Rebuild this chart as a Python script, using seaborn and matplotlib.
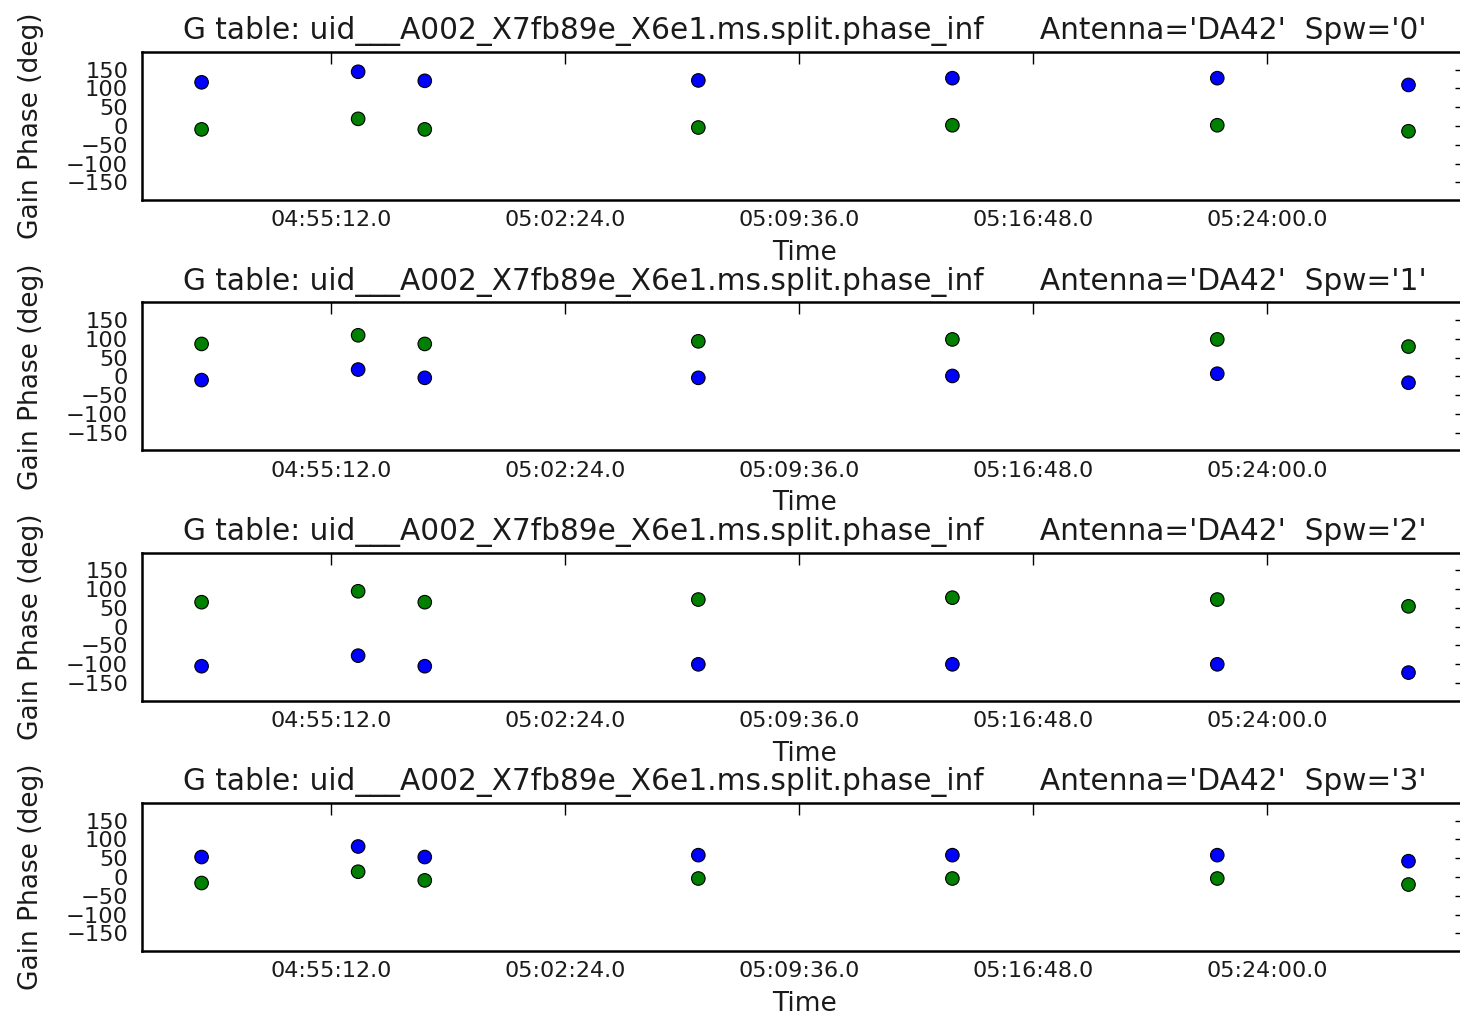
import numpy as np
import pandas as pd
import matplotlib
matplotlib.use("Agg")
import matplotlib.pyplot as plt
import matplotlib.dates as mdates
import matplotlib.ticker as mticker
import seaborn as sns

# ---------------- data ----------------
obs_date = "2014-01-01"
scan_times = ["04:51:13", "04:56:02", "04:58:05", "05:06:30",
              "05:14:19", "05:22:28", "05:28:21"]
spws = ["0", "1", "2", "3"]

blue_spw0 = [116, 144, 120, 121, 127, 127, 109]
green_spw0 = [-9, 19, -9, -4, 2, 2, -14]
blue_spw1 = [-10, 18, -4, -4, 1, 7, -17]
green_spw1 = [86, 109, 86, 93, 98, 98, 79]
blue_spw2 = [-105, -77, -105, -100, -100, -100, -122]
green_spw2 = [65, 94, 65, 72, 77, 72, 54]
blue_spw3 = [53, 81, 53, 58, 58, 58, 42]
green_spw3 = [-16, 14, -9, -4, -4, -4, -20]

yticks = [-150, -100, -50, 0, 50, 100, 150]
x_start = "04:49:23"
x_end = "05:30:09"
table_name = "uid___A002_X7fb89e_X6e1.ms.split.phase_inf"
antenna = "DA42"

blue_by_spw = {"0": blue_spw0, "1": blue_spw1, "2": blue_spw2, "3": blue_spw3}
green_by_spw = {"0": green_spw0, "1": green_spw1, "2": green_spw2, "3": green_spw3}

rows = []
for s in spws:
    for t, b, g in zip(scan_times, blue_by_spw[s], green_by_spw[s]):
        ts = pd.Timestamp(f"{obs_date} {t}")
        rows.append({"time": ts, "phase": b, "spw": s, "series": "blue"})
        rows.append({"time": ts, "phase": g, "spw": s, "series": "green"})
df = pd.DataFrame(rows)

# ---------------- style ----------------
sns.set_style("white")
plt.rcParams["font.family"] = ["DejaVu Sans"]
plt.rcParams["axes.unicode_minus"] = True
plt.rcParams["text.color"] = "#1a1a1a"
plt.rcParams["axes.labelcolor"] = "#1a1a1a"
plt.rcParams["xtick.labelcolor"] = "#1a1a1a"
plt.rcParams["ytick.labelcolor"] = "#1a1a1a"

W, H = 1460, 1015
fig, axes = plt.subplots(4, 1, figsize=(W / 100, H / 100), dpi=100)
top_px, bot_px = 52, 951
ax_h = 148
gap = ((bot_px - top_px) - 4 * ax_h) / 3
fig.subplots_adjust(left=142 / W, right=1467 / W, top=1 - top_px / H,
                    bottom=1 - bot_px / H, hspace=gap / ax_h)

palette = {"blue": "#0000ff", "green": "#008000"}

for ax, s in zip(axes, spws):
    sub = df[df["spw"] == s]
    sns.scatterplot(data=sub, x="time", y="phase", hue="series",
                    palette=palette, s=95, edgecolor="black",
                    linewidth=0.8, legend=False, ax=ax, zorder=3)
    ax.set_ylim(-196.5, 196.5)
    ax.set_yticks(yticks)
    ax.set_xlim(pd.Timestamp(f"{obs_date} {x_start}"),
                pd.Timestamp(f"{obs_date} {x_end}"))
    ax.xaxis.set_major_locator(mticker.MultipleLocator(432 / 86400))
    ax.xaxis.set_major_formatter(mdates.DateFormatter("%H:%M:%S.0"))
    ax.tick_params(axis="both", which="major", direction="in",
                   top=True, right=True, length=8.6, width=1.0,
                   color="black")
    ax.tick_params(axis="x", labelsize=16, pad=7.5)
    ax.tick_params(axis="y", labelsize=16.2, pad=10)
    for sp in ax.spines.values():
        sp.set_linewidth(1.8)
        sp.set_color("black")
    ax.set_xlabel("Time", fontsize=19, labelpad=7)
    ax.set_ylabel("Gain Phase (deg)", fontsize=19, labelpad=16)
    ax.set_title(f"G table: {table_name}      Antenna='{antenna}'  Spw='{s}'",
                 fontsize=21.3, pad=9)
    ax.set_facecolor("white")

fig.savefig("out.png", dpi=100, facecolor="white")
